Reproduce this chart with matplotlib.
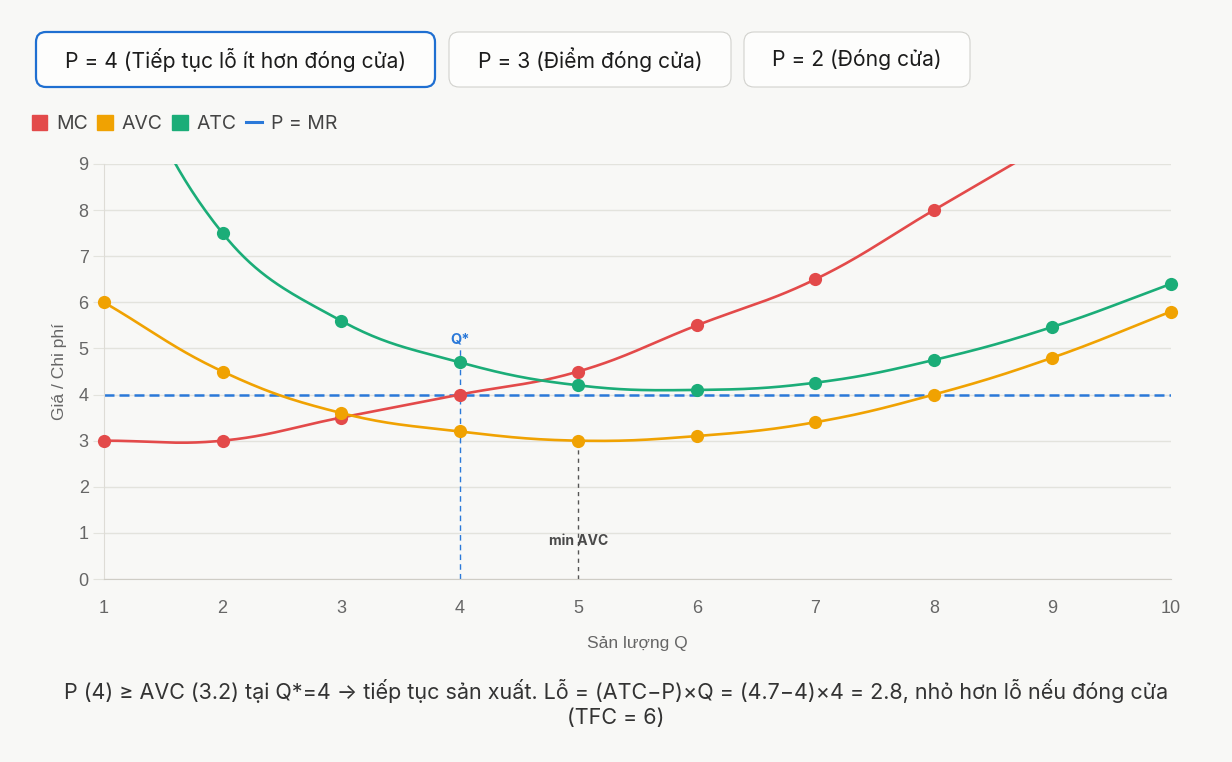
import numpy as np
import matplotlib
matplotlib.use('Agg')
import matplotlib.pyplot as plt
from matplotlib.patches import FancyBboxPatch, Patch
from matplotlib.lines import Line2D

# ---- data ----
Q = [1, 2, 3, 4, 5, 6, 7, 8, 9, 10]
MC = [3, 3, 3.5, 4, 4.5, 5.5, 6.5, 8, 9.5, 11]
AVC = [6, 4.5, 3.6, 3.2, 3.0, 3.1, 3.4, 4.0, 4.8, 5.8]
TFC = 6
ATC = [a + TFC / q for a, q in zip(AVC, Q)]
PRICE = 4
Q_STAR = 4
Q_MIN_AVC = 5
BUTTONS = ['P = 4 (Tiếp tục lỗ ít hơn đóng cửa)', 'P = 3 (Điểm đóng cửa)', 'P = 2 (Đóng cửa)']
CAPTION = ('P (4) ≥ AVC (3.2) tại Q*=4 → tiếp tục sản xuất. Lỗ = (ATC−P)×Q = (4.7−4)×4 = 2.8, '
           'nhỏ hơn lỗ nếu đóng cửa\n(TFC = 6)')

C_MC = '#e34a4a'
C_AVC = '#f0a202'
C_ATC = '#1bad78'
C_P = '#2b79d9'
BG = '#f8f8f6'
FONT = ['Inter', 'DejaVu Sans']
TICKFONT = ['Liberation Sans', 'DejaVu Sans']

# px per unit (for Chart.js-like spline distances)
SX, SY = 118.6, 46.1


def spline(xs, ys, tension=0.4, n=40):
    """Chart.js style bezier curve through points."""
    px = np.array(xs, float) * SX
    py = np.array(ys, float) * SY
    m = len(px)
    cpp, cpn = [], []
    for i in range(m):
        pv = (px[max(i - 1, 0)], py[max(i - 1, 0)])
        nx = (px[min(i + 1, m - 1)], py[min(i + 1, m - 1)])
        d01 = np.hypot(px[i] - pv[0], py[i] - pv[1])
        d12 = np.hypot(nx[0] - px[i], nx[1] - py[i])
        tot = d01 + d12
        s01 = d01 / tot if tot else 0
        s12 = d12 / tot if tot else 0
        fa, fb = tension * s01, tension * s12
        cpp.append((px[i] - fa * (nx[0] - pv[0]), py[i] - fa * (nx[1] - pv[1])))
        cpn.append((px[i] + fb * (nx[0] - pv[0]), py[i] + fb * (nx[1] - pv[1])))
    t = np.linspace(0, 1, n)[:, None]
    out = []
    for i in range(m - 1):
        p0 = np.array([px[i], py[i]])
        p1 = np.array(cpn[i])
        p2 = np.array(cpp[i + 1])
        p3 = np.array([px[i + 1], py[i + 1]])
        seg = ((1 - t) ** 3) * p0 + 3 * ((1 - t) ** 2) * t * p1 + 3 * (1 - t) * t ** 2 * p2 + t ** 3 * p3
        out.append(seg)
    pts = np.vstack(out)
    return pts[:, 0] / SX, pts[:, 1] / SY


fig = plt.figure(figsize=(12.32, 7.62), dpi=100, facecolor=BG)
ax = fig.add_axes([104 / 1232, (762 - 579) / 762, (1171 - 104) / 1232, (579 - 164) / 762])
ax.set_facecolor(BG)

ax.set_xlim(1, 10)
ax.set_ylim(0, 9)

# P = MR
ax.plot([Q[0], Q[-1]], [PRICE, PRICE], color=C_P, lw=1.8, dashes=(4, 2), zorder=2)

for ys, col in [(MC, C_MC), (AVC, C_AVC), (ATC, C_ATC)]:
    sx, sy = spline(Q, ys)
    ax.plot(sx, sy, color=col, lw=1.9, zorder=3, solid_capstyle='round')
    vis = [(q, v) for q, v in zip(Q, ys) if v <= 9]
    ax.plot([v[0] for v in vis], [v[1] for v in vis], 'o', color=col, ms=9.5,
            mec='none', zorder=4, clip_on=False)

# Q* and min AVC markers
ax.plot([Q_STAR, Q_STAR], [0, 5.0], color=C_P, lw=1.0, dashes=(4, 3), zorder=2)
ax.text(Q_STAR, 5.2, 'Q*', color=C_P, fontsize=10.5, fontweight='bold',
        ha='center', va='center', family=FONT)
ax.plot([Q_MIN_AVC, Q_MIN_AVC], [0, AVC[Q.index(Q_MIN_AVC)]], color='#555555', lw=1.0,
        dashes=(3, 3), zorder=2)
ax.text(Q_MIN_AVC, 0.83, 'min AVC', color='#4a4a4a', fontsize=10, fontweight='bold',
        ha='center', va='center', family=FONT, zorder=5)

# axes styling
ax.set_yticks(range(0, 10))
ax.set_xticks(Q)
ax.grid(axis='y', color='#e3e3dd', lw=1.0)
ax.set_axisbelow(True)
for s in ['top', 'right']:
    ax.spines[s].set_visible(False)
ax.spines['left'].set_color('#dedcd6')
ax.spines['bottom'].set_color('#cfcdc6')
ax.tick_params(axis='y', length=8, color='#e3e3dd', labelsize=13, labelcolor='#666666', pad=3)
ax.tick_params(axis='x', length=0, labelsize=13, labelcolor='#666666', pad=15)
for lab in ax.get_xticklabels() + ax.get_yticklabels():
    lab.set_family(TICKFONT)
ax.set_xlabel('Sản lượng Q', fontsize=12.5, color='#666666', labelpad=14, family=TICKFONT)
ax.set_ylabel('Giá / Chi phí', fontsize=12.5, color='#666666', labelpad=8, family=TICKFONT)

# buttons (pixel geometry -> inches)
btn_boxes = [(36, 435), (449, 731), (744, 970)]
for i, (label, (x0, x1)) in enumerate(zip(BUTTONS, btn_boxes)):
    active = i == 0
    box = FancyBboxPatch((x0 / 100, (762 - 87) / 100), (x1 - x0) / 100, 0.55,
                         boxstyle='round,pad=0,rounding_size=0.1',
                         transform=fig.dpi_scale_trans,
                         facecolor='#fdfdfc',
                         edgecolor='#1f6fd1' if active else '#d2d2ce',
                         lw=1.6 if active else 0.8)
    fig.patches.append(box)
    fig.text((x0 + x1) / 2 / 1232, (762 - 59.5) / 762, label, ha='center', va='center',
             fontsize=15.2, color='#1c1c1c', family=FONT)

# legend
handles = [Patch(color=C_MC, label='MC'), Patch(color=C_AVC, label='AVC'),
           Patch(color=C_ATC, label='ATC'),
           Line2D([0], [0], color=C_P, lw=2.2, label='P = MR')]
leg = fig.legend(handles=handles, loc='center left', bbox_to_anchor=(14 / 1232, (762 - 124) / 762),
                 ncol=4, frameon=False, handlelength=0.8, handleheight=0.8,
                 handletextpad=0.45, columnspacing=0.5, labelcolor='#444444',
                 prop={'family': FONT, 'size': 14})

fig.text(0.5, (762 - 703.5) / 762, CAPTION, ha='center', va='center', fontsize=15.5,
         color='#333333', family=FONT, linespacing=1.3)

fig.savefig('out.png', dpi=100, facecolor=BG)
